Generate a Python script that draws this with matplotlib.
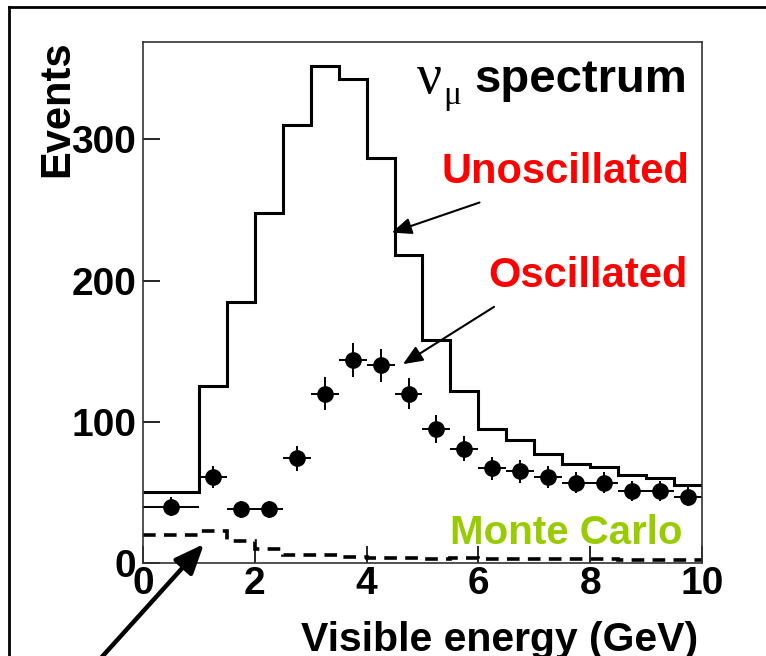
import matplotlib
matplotlib.use('Agg')
import matplotlib.pyplot as plt
import matplotlib as mpl
import numpy as np

mpl.rcParams['font.family'] = 'Liberation Sans'
mpl.rcParams['font.weight'] = 'bold'

# === Data ====================================================================
# bin edges in visible energy (GeV): first bin is 1 GeV wide, then 0.5 GeV
edges = [0.0, 1.0, 1.5, 2.0, 2.5, 3.0, 3.5, 4.0, 4.5, 5.0, 5.5,
         6.0, 6.5, 7.0, 7.5, 8.0, 8.5, 9.0, 9.5, 10.0]

# unoscillated prediction (solid histogram)
unosc = [50, 125, 185, 248, 310, 352, 343, 287, 218, 158,
         122, 95, 87, 77, 70, 68, 62, 60, 55]

# oscillated (points with errors)
osc = [40, 61, 38, 38, 74, 120, 144, 140, 120, 95,
       81, 67, 65, 61, 57, 57, 51, 51, 47]
osc_err = [6.9, 7.8, 6.2, 6.2, 8.6, 11.7, 12.0, 11.8, 11.0, 10.0,
           9.0, 8.2, 8.0, 7.8, 7.5, 7.5, 7.2, 7.2, 6.9]

# Monte Carlo background (dashed)
mc = [20, 22.5, 15.5, 10, 5.7, 5.7, 4.5, 3.5, 3.5, 3.0,
      3.5, 3.0, 2.5, 2.5, 2.5, 2.5, 2.0, 2.0, 2.0]

xticks = [0, 2, 4, 6, 8, 10]
yticks = [0, 100, 200, 300]

# =============================================================================
e = np.array(edges)
centers = (e[:-1] + e[1:]) / 2
halfw = (e[1:] - e[:-1]) / 2

fig = plt.figure(figsize=(7.66, 6.56), dpi=100)
ax = fig.add_axes([0.1867, 0.1418, 0.7297, 0.7942])

ax.stairs(unosc, edges, baseline=None, color='k', lw=2.2)
ax.stairs(mc, edges, baseline=None, color='k', lw=2.6, linestyle=(0, (3.5, 2.3)))
ax.errorbar(centers, osc, xerr=halfw, yerr=osc_err, fmt='o', color='k',
            ms=11, elinewidth=1.4, capsize=0)

ax.set_xlim(0, 10)
ax.set_ylim(0, 369)
ax.set_xticks(xticks)
ax.set_yticks(yticks)
ax.tick_params(direction='in', length=12.5, width=1.2, labelsize=28)
ax.tick_params(axis='x', pad=2)
ax.tick_params(axis='y', pad=5)
for sp in ax.spines.values():
    sp.set_linewidth(1.2)
    sp.set_color('#333333')

# axis titles, ROOT style (right / top aligned)
fig.text(0.9164 - 0.005, 0.0076, 'Visible energy (GeV)', ha='right',
         va='baseline', fontsize=29.5, fontweight='bold')
fig.text(0.0745, 0.939, 'Events', rotation=90, ha='center', va='top',
         fontsize=30, fontweight='bold')

# labels in the plot
ax.text(9.73, 333.5, 'spectrum', ha='right', va='baseline', fontsize=34,
        fontweight='bold')
ax.text(4.90, 332.6, '\u03bd', ha='left', va='baseline', fontsize=40,
        family='Liberation Serif', fontweight='normal')
ax.text(5.37, 325, '\u03bc', ha='left', va='baseline', fontsize=24,
        family='Liberation Serif', fontweight='normal')
ax.text(9.77, 269, 'Unoscillated', ha='right', va='baseline', fontsize=30,
        color='#ff0000', fontweight='bold')
ax.text(9.75, 195.3, 'Oscillated', ha='right', va='baseline', fontsize=30,
        color='#ff0000', fontweight='bold')
ax.text(9.66, 13.4, 'Monte Carlo', ha='right', va='baseline', fontsize=29,
        color='#99cc00', fontweight='bold')

# arrows
thin = dict(arrowstyle='-|>,head_length=0.6,head_width=0.25', color='k',
            lw=1.5, mutation_scale=20, shrinkA=0, shrinkB=0)
ax.annotate('', xy=(4.45, 234), xytext=(6.02, 255.3), arrowprops=thin)
ax.annotate('', xy=(4.65, 140.8), xytext=(6.28, 181.4), arrowprops=thin)
ax.annotate('', xy=(1.09, 13.4), xytext=(-0.86, -72), annotation_clip=False,
            arrowprops=dict(arrowstyle='-|>,head_length=0.6,head_width=0.25',
                            color='k', lw=3.2, mutation_scale=30,
                            shrinkA=0, shrinkB=0))

# outer frame (runs off the right and bottom of the picture)
fig.add_artist(plt.Line2D([0.0117, 0.0117], [0, 0.9893], color='k', lw=2,
                          transform=fig.transFigure))
fig.add_artist(plt.Line2D([0.0117, 1.0], [0.9893, 0.9893], color='k', lw=2,
                          transform=fig.transFigure))

plt.savefig('out.png', dpi=100)
plt.close()
